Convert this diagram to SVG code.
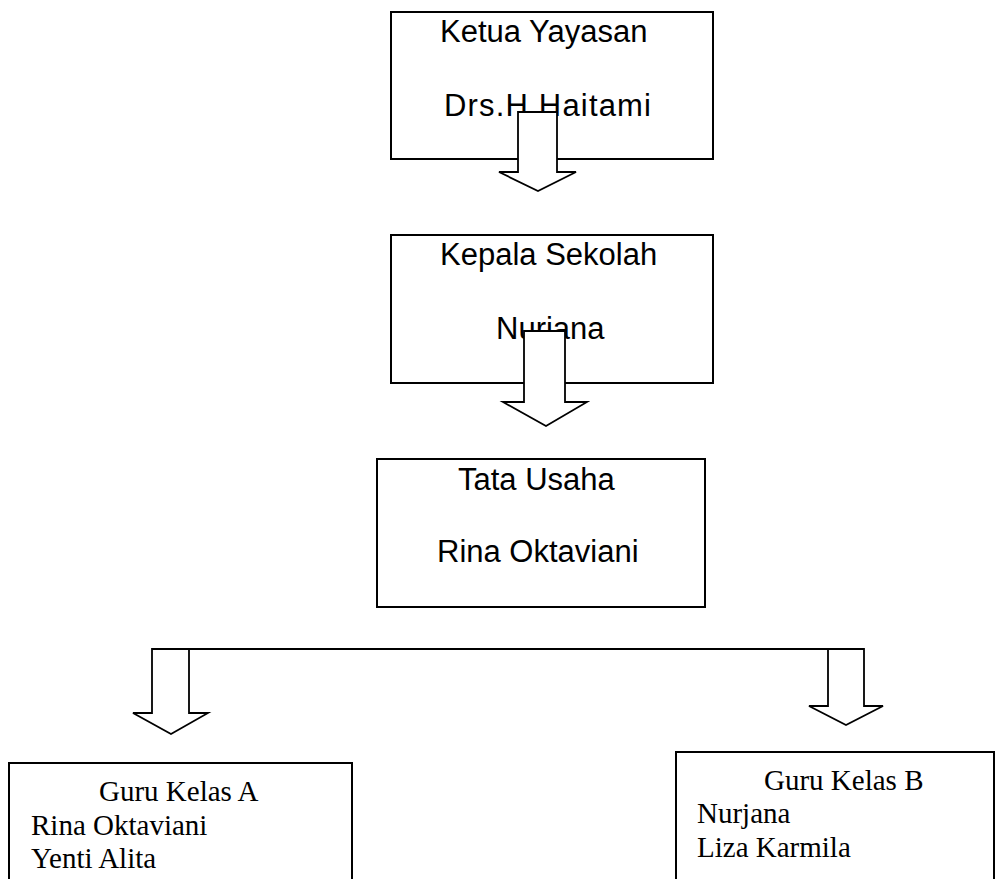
<svg xmlns="http://www.w3.org/2000/svg" width="1000" height="879" viewBox="0 0 1000 879">
<style>
.box{fill:#fff;stroke:#000;stroke-width:2}
.sans{font-family:"Liberation Sans",Arial,sans-serif;font-size:31px;fill:#000}
.serif{font-family:"Liberation Serif","Times New Roman",serif;font-size:29px;fill:#000}
.arrow{fill:#fff;stroke:#000;stroke-width:1.8;stroke-linejoin:miter}
.line{fill:none;stroke:#000;stroke-width:2}
</style>
<rect width="1000" height="879" fill="#fff"/>
<g id="ketua-yayasan">
<rect class="box" x="391" y="12" width="322" height="147"/>
<text class="sans" x="440" y="42">Ketua Yayasan</text>
<text class="sans" x="444" y="116" textLength="207" lengthAdjust="spacing">Drs.H Haitami</text>
</g>
<g id="kepala-sekolah">
<rect class="box" x="391" y="235" width="322" height="148"/>
<text class="sans" x="440" y="265">Kepala Sekolah</text>
<text class="sans" x="496" y="339">Nurjana</text>
</g>
<g id="tata-usaha">
<rect class="box" x="377" y="459" width="328" height="148"/>
<text class="sans" x="458" y="490">Tata Usaha</text>
<text class="sans" x="437" y="562">Rina Oktaviani</text>
</g>
<g id="guru-kelas-a">
<rect class="box" x="9" y="763" width="343" height="140"/>
<text class="serif" x="99" y="801">Guru Kelas A</text>
<text class="serif" x="31" y="835">Rina Oktaviani</text>
<text class="serif" x="31" y="868">Yenti Alita</text>
</g>
<g id="guru-kelas-b">
<rect class="box" x="676" y="752" width="318" height="150"/>
<text class="serif" x="764" y="790">Guru Kelas B</text>
<text class="serif" x="697" y="823">Nurjana</text>
<text class="serif" x="697" y="857">Liza Karmila</text>
</g>
<g id="connectors">
<polygon class="arrow" points="518,112 557,112 557,172 576,172 538,191 499,172 518,172"/>
<polygon class="arrow" points="524,331 565,331 565,402 587,402 546,426 503,402 524,402"/>
<polygon class="arrow" points="152,649 189,649 189,713 208,713 171,734 133,713 152,713"/>
<polygon class="arrow" points="828,649 864,649 864,706 883,706 846,725 809,706 828,706"/>
<line class="line" x1="152" y1="649" x2="864" y2="649"/>
</g>
</svg>
